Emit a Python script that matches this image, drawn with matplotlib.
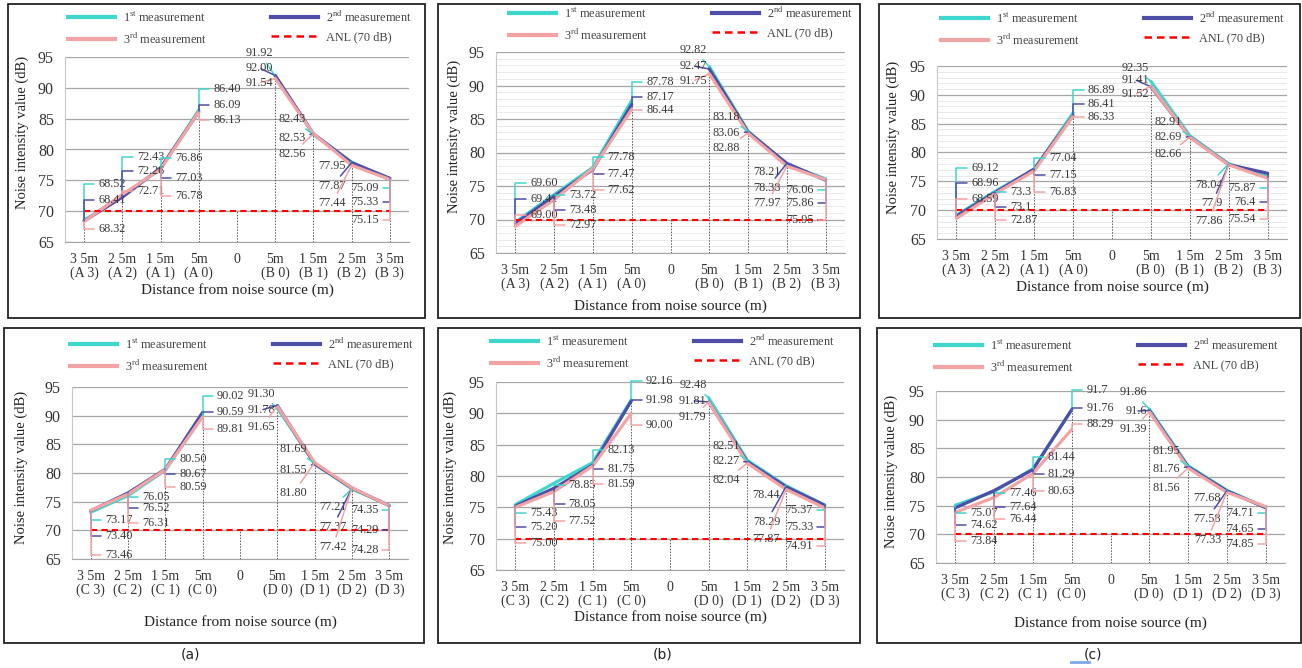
import numpy as np
import matplotlib.pyplot as plt
from matplotlib.lines import Line2D
from matplotlib.patches import Rectangle

plt.rcParams['font.family'] = ['Liberation Serif', 'DejaVu Serif']
plt.rcParams['mathtext.fontset'] = 'custom'
plt.rcParams['mathtext.rm'] = 'Liberation Serif'

nan = np.nan
W, H = 1302, 668

ticks_ab = ["3 5m\n(A 3)", "2 5m\n(A 2)", "1 5m\n(A 1)", "5m\n(A 0)", "0",
            "5m\n(B 0)", "1 5m\n(B 1)", "2 5m\n(B 2)", "3 5m\n(B 3)"]
ticks_cd = ["3 5m\n(C 3)", "2 5m\n(C 2)", "1 5m\n(C 1)", "5m\n(C 0)", "0",
            "5m\n(D 0)", "1 5m\n(D 1)", "2 5m\n(D 2)", "3 5m\n(D 3)"]
anl = [70] * 9

# panel 1 (top left)
p1_s1 = [68.52, 72.43, 76.86, 86.40, nan, 91.92, 82.43, 77.95, 75.09]
p1_s2 = [68.41, 72.26, 77.03, 86.09, nan, 92.00, 82.53, 77.87, 75.33]
p1_s3 = [68.32, 72.71, 76.78, 86.13, nan, 91.54, 82.56, 77.44, 75.15]
# panel 2 (top middle)
p2_s1 = [69.60, 73.72, 77.78, 87.78, nan, 92.82, 83.18, 78.21, 76.06]
p2_s2 = [69.41, 73.48, 77.47, 87.17, nan, 92.47, 83.06, 78.38, 75.86]
p2_s3 = [69.00, 72.97, 77.62, 86.44, nan, 91.75, 82.88, 77.97, 75.95]
# panel 3 (top right)
p3_s1 = [69.12, 73.3, 77.04, 86.89, nan, 92.35, 82.91, 78.04, 75.87]
p3_s2 = [68.96, 73.1, 77.15, 86.41, nan, 91.41, 82.69, 77.9, 76.4]
p3_s3 = [68.59, 72.87, 76.83, 86.33, nan, 91.52, 82.66, 77.86, 75.54]
# panel 4 (bottom left)
p4_s1 = [73.17, 76.05, 80.50, 90.02, nan, 91.30, 81.69, 77.21, 74.35]
p4_s2 = [73.40, 76.52, 80.67, 90.59, nan, 91.78, 81.55, 77.37, 74.29]
p4_s3 = [73.46, 76.31, 80.59, 89.81, nan, 91.65, 81.80, 77.42, 74.28]
# panel 5 (bottom middle)
p5_s1 = [75.43, 78.85, 82.13, 92.16, nan, 92.48, 82.51, 78.44, 75.37]
p5_s2 = [75.20, 78.05, 81.75, 91.98, nan, 91.81, 82.27, 78.29, 75.33]
p5_s3 = [75.00, 77.52, 81.59, 90.00, nan, 91.79, 82.04, 77.87, 74.91]
# panel 6 (bottom right)
p6_s1 = [75.07, 77.46, 81.44, 91.7, nan, 91.86, 81.95, 77.68, 74.71]
p6_s2 = [74.62, 77.64, 81.29, 91.76, nan, 91.6, 81.76, 77.58, 74.65]
p6_s3 = [73.84, 76.44, 80.63, 88.29, nan, 91.39, 81.56, 77.33, 74.85]

# where the data labels sit (y in dB), per point: 1st, 2nd, 3rd
p1_lab = [[74.4, 71.8, 67.1], [78.8, 76.5, 73.3], [78.6, 75.4, 72.5], [89.8, 87.2, 84.8], None,
          [95.6, 93.2, 90.8], [84.9, 81.9, 79.3], [77.3, 74.1, 71.3], [73.8, 71.5, 68.6]]
p2_lab = [[75.4, 73.1, 70.7], [73.6, 71.4, 69.2], [79.3, 76.8, 74.4], [90.5, 88.3, 86.3], None,
          [95.3, 92.9, 90.7], [85.3, 82.9, 80.7], [77.1, 74.7, 72.4], [74.4, 72.4, 69.9]]
p3_lab = [[77.3, 74.7, 71.9], [73.2, 70.6, 68.3], [79.0, 76.1, 73.2], [90.8, 88.4, 86.1], None,
          [94.6, 92.6, 90.1], [85.3, 82.7, 79.7], [74.4, 71.2, 68.1], [73.8, 71.4, 68.5]]
p4_lab = [[71.8, 69.0, 65.7], [75.8, 73.9, 71.3], [82.4, 79.8, 77.6], [93.4, 90.6, 87.7], None,
          [93.8, 91.0, 88.0], [84.2, 80.5, 76.5], [74.1, 70.6, 67.1], [73.5, 70.1, 66.6]]
p5_lab = [[74.1, 71.9, 69.3], [78.6, 75.5, 72.8], [84.1, 81.1, 78.7], [95.2, 92.1, 88.1], None,
          [94.5, 92.0, 89.4], [84.8, 82.4, 79.4], [77.0, 72.7, 69.9], [74.6, 71.9, 68.8]]
p6_lab = [[73.7, 71.6, 68.8], [77.2, 74.8, 72.7], [83.5, 80.5, 77.6], [95.2, 92.0, 89.3], None,
          [94.8, 91.5, 88.4], [84.5, 81.4, 78.1], [76.3, 72.7, 69.0], [73.7, 70.9, 68.3]]

colors = ['#3ED6CD', '#4E4EA8', '#F2A4A4']
legend_labels = [r'1$^{\rm st}$ measurement', r'2$^{\rm nd}$ measurement',
                 r'3$^{\rm rd}$ measurement', 'ANL (70 dB)']

# pixel layout: axes (l, t, r, b), box (l, t, r, b), legend centre, xlabel y, ylabel (x, y)
panels = [
    dict(s=(p1_s1, p1_s2, p1_s3), lab=p1_lab, ticks=ticks_ab, fmt='{:.2f}', minor=False,
         ax=(65, 57, 409, 242), box=(8, 4, 425, 318), leg=(240, 28), xl=290, yl=(22, 132)),
    dict(s=(p2_s1, p2_s2, p2_s3), lab=p2_lab, ticks=ticks_ab, fmt='{:.2f}', minor=True,
         ax=(496, 52, 845, 253), box=(438, 4, 860, 318), leg=(681, 24), xl=306, yl=(454, 136)),
    dict(s=(p3_s1, p3_s2, p3_s3), lab=p3_lab, ticks=ticks_ab, fmt='{:g}', minor=True,
         ax=(937, 66, 1287, 239), box=(879, 4, 1300, 318), leg=(1113, 29), xl=287, yl=(893, 137)),
    dict(s=(p4_s1, p4_s2, p4_s3), lab=p4_lab, ticks=ticks_cd, fmt='{:.2f}', minor=False,
         ax=(72, 387, 408, 559), box=(4, 328, 424, 643), leg=(242, 355), xl=622, yl=(21, 467)),
    dict(s=(p5_s1, p5_s2, p5_s3), lab=p5_lab, ticks=ticks_cd, fmt='{:.2f}', minor=False,
         ax=(496, 382, 844, 570), box=(438, 328, 860, 643), leg=(663, 352), xl=617, yl=(450, 467)),
    dict(s=(p6_s1, p6_s2, p6_s3), lab=p6_lab, ticks=ticks_cd, fmt='{:g}', minor=False,
         ax=(936, 391, 1285, 563), box=(877, 328, 1301, 643), leg=(1107, 356), xl=623, yl=(891, 471)),
]
captions = [('(a)', 190), ('(b)', 663), ('(c)', 1093)]

# label x offset (categories) and leader style per position
angle = 'angle,angleA=0,angleB=90,rad=0'
lab_dx = {5: -0.05, 6: -0.2, 7: -0.15, 8: -0.3}

fig = plt.figure(figsize=(W / 100, H / 100), dpi=100)

for p in panels:
    l, t, r, b = p['ax']
    ax = fig.add_axes([l / W, 1 - b / H, (r - l) / W, (b - t) / H])
    x = np.arange(9)
    ax.set_xlim(-0.5, 8.5)
    ax.set_ylim(65, 95)
    ax.set_yticks(range(65, 96, 5))
    if p['minor']:
        ax.set_yticks(range(65, 96), minor=True)
        ax.grid(which='minor', axis='y', color='#e6e6e6', lw=0.6)
    ax.grid(which='major', axis='y', color='#a6a6a6', lw=0.9)
    ax.set_axisbelow(True)
    ax.tick_params(which='both', length=0)
    ax.tick_params(axis='y', labelsize=11.5, pad=8, colors='#333333')
    ax.tick_params(axis='x', labelsize=10, pad=8, colors='#333333')
    ax.set_xticks(x)
    ax.set_xticklabels(p['ticks'], linespacing=1.05)
    for side in ['top', 'right']:
        ax.spines[side].set_visible(False)
    ax.spines['left'].set_color('#c8c8c8')
    ax.spines['bottom'].set_color('#a6a6a6')

    s1, s2, s3 = p['s']
    top = np.nanmax(np.vstack([s1, s2, s3, anl]), axis=0)
    ax.vlines(x, 65, top, colors='#555555', linestyles=(0, (1.5, 1.5)), lw=0.7, zorder=1.5)
    for s, c in zip(p['s'], colors):
        ax.plot(x, s, color=c, lw=2.3, solid_capstyle='round', zorder=3)
    ax.plot(x, anl, color='#FF0000', ls=(0, (3, 2)), lw=1.5, zorder=4)

    for i, ys in enumerate(p['lab']):
        if ys is None:
            continue
        for k in range(3):
            v = p['s'][k][i]
            if i < 4:
                xt, ha, cs = i + 0.38, 'left', angle
            else:
                xt, ha = i + lab_dx[i], 'right'
                cs = angle if i == 8 else 'arc3'
            ax.annotate(p['fmt'].format(v), xy=(i, v), xytext=(xt, ys[k]),
                        ha=ha, va='center', fontsize=8.8, color='#3a3a3a',
                        annotation_clip=False, zorder=5,
                        arrowprops=dict(arrowstyle='-', color=colors[k], lw=1.1,
                                        shrinkA=1, shrinkB=0, connectionstyle=cs))

    ax.set_xlabel('Distance from noise source (m)', fontsize=11, va='center', color='#222222')
    ax.xaxis.set_label_coords(0.5, (b - p['xl']) / (b - t))
    ax.set_ylabel('Noise intensity value (dB)', fontsize=10.5, va='center', color='#222222')
    ax.yaxis.set_label_coords((p['yl'][0] - l) / (r - l), (b - p['yl'][1]) / (b - t))

    handles = [Line2D([], [], color=colors[0], lw=3),
               Line2D([], [], color=colors[2], lw=3),
               Line2D([], [], color=colors[1], lw=3),
               Line2D([], [], color='#FF0000', lw=1.8, ls=(0, (3, 2)))]
    names = [legend_labels[0], legend_labels[2], legend_labels[1], legend_labels[3]]
    cx, cy = p['leg']
    ax.legend(handles, names, loc='center', bbox_to_anchor=(cx / W, 1 - cy / H),
              bbox_transform=fig.transFigure, ncol=2, frameon=False, fontsize=8.8,
              handlelength=3.8, handletextpad=0.7, columnspacing=5.2, labelspacing=0.55,
              borderpad=0, labelcolor='#444444')

    bl, bt, br, bb = p['box']
    fig.add_artist(Rectangle((bl / W, 1 - bb / H), (br - bl) / W, (bb - bt) / H,
                             transform=fig.transFigure, fill=False, ec='#222222', lw=1.3))

for txt, cx in captions:
    fig.text(cx / W, 1 - 655 / H, txt, ha='center', va='center', fontsize=10,
             family='DejaVu Sans', color='#222222')
fig.add_artist(Line2D([1071 / W, 1089 / W], [1 - 662 / H] * 2, color='#7AA7E8', lw=2))

fig.savefig('out.png', dpi=100)
